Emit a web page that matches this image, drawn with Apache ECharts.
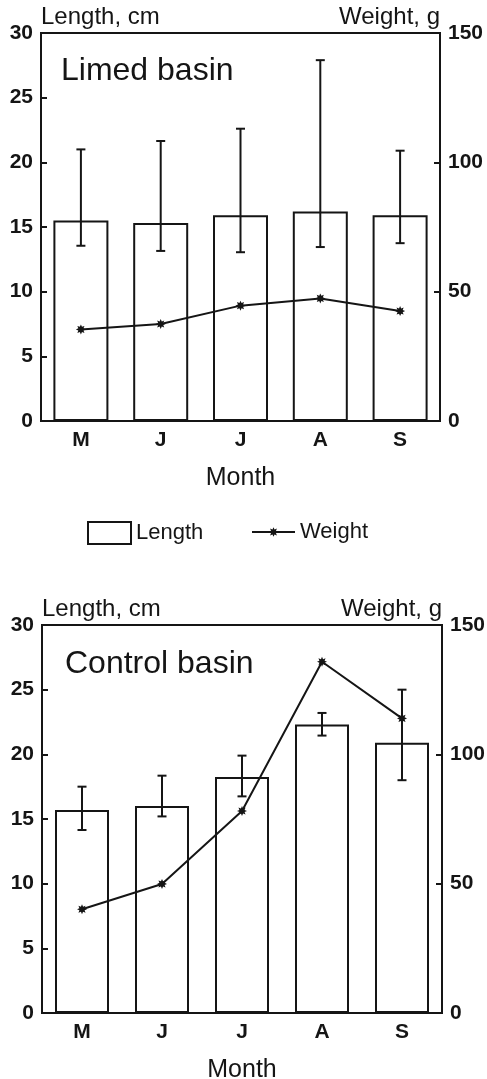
<!DOCTYPE html>
<html>
<head>
<meta charset="utf-8">
<script src="https://cdn.jsdelivr.net/npm/echarts@6/dist/echarts.min.js"></script>
<style>
  html, body { margin: 0; padding: 0; background: #fff; }
  #chart { width: 487px; height: 1079px; }
</style>
</head>
<body>
<div id="chart"></div>
<script>
var months = ["M", "J", "J", "A", "S"];

// Limed basin
var limedLength = [15.5, 15.3, 15.9, 16.2, 15.9];
var limedLengthLow = [13.55, 13.15, 13.05, 13.45, 13.75];
var limedLengthHigh = [21.0, 21.65, 22.6, 27.9, 20.9];
var limedWeight = [35.4, 37.5, 44.6, 47.4, 42.5];

// Control basin
var controlLength = [15.7, 16.0, 18.25, 22.3, 20.9];
var controlLengthLow = [14.15, 15.2, 16.75, 21.45, 18.0];
var controlLengthHigh = [17.5, 18.35, 19.9, 23.2, 25.0];
var controlWeight = [40.1, 49.9, 78.1, 135.8, 113.9];

var ink = "#151515";
var font = "Liberation Sans";
var starPath = "path://M100,50 L75.9,60.7 L85.4,85.4 L60.7,75.9 L50,100 L39.3,75.9 L14.6,85.4 L24.1,60.7 L0,50 L24.1,39.3 L14.6,14.6 L39.3,24.1 L50,0 L60.7,24.1 L85.4,14.6 L75.9,39.3 Z";

function errorBars(params, api) {
  var x = api.value(0);
  var lo = api.coord([x, api.value(1)]);
  var hi = api.coord([x, api.value(2)]);
  var half = 4.5;
  var style = { stroke: ink, lineWidth: 2, fill: null };
  return {
    type: "group",
    children: [
      { type: "line", shape: { x1: hi[0], y1: hi[1], x2: lo[0], y2: lo[1] }, style: style },
      { type: "line", shape: { x1: hi[0] - half, y1: hi[1], x2: hi[0] + half, y2: hi[1] }, style: style },
      { type: "line", shape: { x1: lo[0] - half, y1: lo[1], x2: lo[0] + half, y2: lo[1] }, style: style }
    ]
  };
}

function errData(low, high) {
  return low.map(function (v, i) { return [i, v, high[i]]; });
}

function makeX(gridIndex) {
  return {
    type: "category",
    gridIndex: gridIndex,
    data: months,
    axisLine: { lineStyle: { color: ink, width: 2 } },
    axisTick: { alignWithLabel: true, inside: true, length: 6, lineStyle: { color: ink, width: 2 } },
    axisLabel: { color: ink, fontFamily: font, fontSize: 21, fontWeight: "bold", margin: 9 },
    name: "Month",
    nameLocation: "middle",
    nameGap: 45,
    nameTextStyle: { color: ink, fontFamily: font, fontSize: 25 }
  };
}

function makeY(gridIndex, side, max, interval, name) {
  return {
    type: "value",
    gridIndex: gridIndex,
    position: side,
    min: 0,
    max: max,
    interval: interval,
    splitLine: { show: false },
    axisLine: { show: true, lineStyle: { color: ink, width: 2 } },
    axisTick: { show: true, inside: true, length: 6, lineStyle: { color: ink, width: 2 } },
    axisLabel: { color: ink, fontFamily: font, fontSize: 21, fontWeight: "bold", margin: 8 },
    name: name,
    nameLocation: "end",
    nameGap: 4,
    nameTextStyle: {
      color: ink, fontFamily: font, fontSize: 24,
      align: side === "left" ? "left" : "right"
    }
  };
}

var barStyle = { color: "#fff", borderColor: ink, borderWidth: 2 };
var legendText = { color: ink, fontFamily: font, fontSize: 22 };

var chart = echarts.init(document.getElementById("chart"), null, { renderer: "canvas" });
chart.setOption({
  animation: false,
  backgroundColor: "#fff",
  title: [
    { text: "Limed basin", left: 61, top: 55, padding: 0, textStyle: { color: ink, fontFamily: font, fontSize: 32, fontWeight: "normal" } },
    { text: "Control basin", left: 65, top: 648, padding: 0, textStyle: { color: ink, fontFamily: font, fontSize: 32, fontWeight: "normal" } }
  ],
  legend: [
    {
      selectedMode: false,
      data: [{ name: "Length", icon: "rect" }],
      left: 87, top: 521, padding: 0,
      itemWidth: 43, itemHeight: 22,
      itemStyle: { color: "#fff", borderColor: ink, borderWidth: 2 },
      textStyle: legendText
    },
    {
      selectedMode: false,
      data: ["Weight"],
      left: 251, top: 521, padding: 0,
      itemWidth: 43, itemHeight: 12,
      itemStyle: { color: ink },
      lineStyle: { color: ink, width: 2 },
      textStyle: legendText
    }
  ],
  grid: [
    { left: 41, right: 47, top: 33, height: 388, outerBoundsMode: "none", containLabel: false,
      show: true, borderColor: ink, borderWidth: 2, backgroundColor: "transparent" },
    { left: 42, right: 45, top: 625, height: 388, outerBoundsMode: "none", containLabel: false,
      show: true, borderColor: ink, borderWidth: 2, backgroundColor: "transparent" }
  ],
  xAxis: [makeX(0), makeX(1)],
  yAxis: [
    makeY(0, "left", 30, 5, "Length, cm"),
    makeY(0, "right", 150, 50, "Weight, g"),
    makeY(1, "left", 30, 5, "Length, cm"),
    makeY(1, "right", 150, 50, "Weight, g")
  ],
  series: [
    { name: "Length", type: "bar", xAxisIndex: 0, yAxisIndex: 0, barWidth: 55, itemStyle: barStyle, data: limedLength, z: 2 },
    { name: "Length error", type: "custom", xAxisIndex: 0, yAxisIndex: 0, renderItem: errorBars,
      encode: { x: 0, y: [1, 2] }, data: errData(limedLengthLow, limedLengthHigh), z: 3 },
    { name: "Weight", type: "line", xAxisIndex: 0, yAxisIndex: 1, symbol: starPath, symbolSize: 10,
      lineStyle: { color: ink, width: 2 }, itemStyle: { color: ink }, data: limedWeight, z: 4 },

    { name: "Length", type: "bar", xAxisIndex: 1, yAxisIndex: 2, barWidth: 54, itemStyle: barStyle, data: controlLength, z: 2 },
    { name: "Length error", type: "custom", xAxisIndex: 1, yAxisIndex: 2, renderItem: errorBars,
      encode: { x: 0, y: [1, 2] }, data: errData(controlLengthLow, controlLengthHigh), z: 3 },
    { name: "Weight", type: "line", xAxisIndex: 1, yAxisIndex: 3, symbol: starPath, symbolSize: 10,
      lineStyle: { color: ink, width: 2 }, itemStyle: { color: ink }, data: controlWeight, z: 4 }
  ]
});
</script>
</body>
</html>
